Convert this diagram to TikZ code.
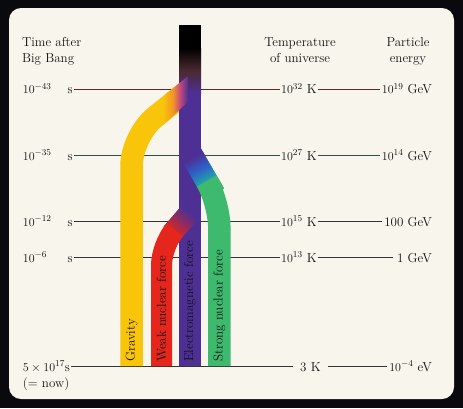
\documentclass[tikz,border=0pt]{standalone}
\usetikzlibrary{calc}
\definecolor{outer}{HTML}{0A0A0E}
\definecolor{panel}{HTML}{F7F5EC}
\definecolor{txt}{HTML}{141212}
\definecolor{mypurple}{HTML}{4E3094}
\definecolor{myyellow}{HTML}{F9C50A}
\definecolor{myorange}{HTML}{F39428}
\definecolor{mypink}{HTML}{C4487E}
\definecolor{myred}{HTML}{E5261C}
\definecolor{mygreen}{HTML}{3DBA6E}
\definecolor{myblue}{HTML}{2F5FC8}
\definecolor{myteal}{HTML}{22A6A8}
\definecolor{mybrown}{HTML}{4A2A30}
\definecolor{lineA}{HTML}{5C2A2A}
\definecolor{lineB}{HTML}{2F4F47}
\definecolor{lineC}{HTML}{333333}
\begin{document}
\begin{tikzpicture}[x=1pt,y=-1pt,
  lbl/.style={font=\fontsize{13}{16}\selectfont, inner sep=1pt, text=txt},
  barlbl/.style={font=\fontsize{13}{16}\selectfont, rotate=90, anchor=west, inner sep=0pt, text=txt},
  rowline/.style={line width=0.9pt}]
\useasboundingbox (0,0) rectangle (463,408);
\fill[outer] (0,0) rectangle (463,408);
\fill[panel, rounded corners=12pt] (9,8) rectangle (454,399);

% headers
\node[lbl, anchor=north west, align=left, inner sep=0pt] (h1) at (22,37.5) {Time after\\Big Bang};
\node[lbl, anchor=north, align=center, inner sep=0pt] (h2) at (300,37.5) {Temperature\\of universe};
\node[lbl, anchor=north, align=center, inner sep=0pt] (h3) at (408,37.5) {Particle\\energy};

% row 1
\node[lbl, anchor=base west] (t1) at (21.7,93.5) {$10^{-43}$};
\node[lbl, anchor=base west] (s1) at (66.5,93.5) {s};
\node[lbl, anchor=base west] (k1) at (280,93.5) {$10^{32}$ K};
\node[lbl, anchor=base east, inner xsep=2pt] (e1) at (434,93.5) {$10^{19}$ GeV};
\coordinate (r1) at (0,89);
\draw[rowline, lineA] (s1.east |- r1) -- (k1.west |- r1);
\draw[rowline, lineA] (k1.east |- r1) -- (e1.west |- r1);
% row 2
\node[lbl, anchor=base west] (t2) at (21.7,160.2) {$10^{-35}$};
\node[lbl, anchor=base west] (s2) at (66.5,160.2) {s};
\node[lbl, anchor=base west] (k2) at (280,160.2) {$10^{27}$ K};
\node[lbl, anchor=base east, inner xsep=2pt] (e2) at (434,160.2) {$10^{14}$ GeV};
\coordinate (r2) at (0,155.7);
\draw[rowline, lineB] (s2.east |- r2) -- (k2.west |- r2);
\draw[rowline, lineB] (k2.east |- r2) -- (e2.west |- r2);
% row 3
\node[lbl, anchor=base west] (t3) at (21.7,226.2) {$10^{-12}$};
\node[lbl, anchor=base west] (s3) at (66.5,226.2) {s};
\node[lbl, anchor=base west] (k3) at (280,226.2) {$10^{15}$ K};
\node[lbl, anchor=base east, inner xsep=2pt] (e3) at (434,226.2) {100 GeV};
\coordinate (r3) at (0,221.7);
\draw[rowline, lineC] (s3.east |- r3) -- (k3.west |- r3);
\draw[rowline, lineC] (k3.east |- r3) -- (e3.west |- r3);
% row 4
\node[lbl, anchor=base west] (t4) at (21.7,262.2) {$10^{-6}$};
\node[lbl, anchor=base west] (s4) at (66.5,262.2) {s};
\node[lbl, anchor=base west] (k4) at (280,262.2) {$10^{13}$ K};
\node[lbl, anchor=base east, inner xsep=4pt] (e4) at (436,262.2) {1 GeV};
\coordinate (r4) at (0,257.7);
\draw[rowline, lineC] (s4.east |- r4) -- (k4.west |- r4);
\draw[rowline, lineC] (k4.east |- r4) -- (e4.west |- r4);
% row 5
\node[lbl, anchor=base west] (t5) at (21.7,371) {$5\times10^{17}$s};
\node[lbl, anchor=base west, inner xsep=7pt] (k5) at (293,371) {3 K};
\node[lbl, anchor=base east, inner xsep=2.5pt] (e5) at (434.5,371) {$10^{-4}$ eV};
\coordinate (r5) at (0,366.5);
\draw[rowline, lineC] (t5.east |- r5) -- (k5.west |- r5);
\draw[rowline, lineC] (k5.east |- r5) -- (e5.west |- r5);
\node[lbl, anchor=base west] (now) at (21.7,387) {(= now)};

% gravity band (under the column)
\draw[myyellow, line width=22.5pt, rounded corners=30pt] (190,89) -- (131.5,135.8) -- (131.5,366);

% main column
\fill[black] (179,25) rectangle (201,49);
\shade[top color=black, bottom color=mypurple, middle color=mybrown] (179,48) rectangle (201,93);
\fill[mypurple] (179,92) rectangle (201,366);

% gravity junction blend
\begin{scope}
\clip (163,96.19) -- (188,76.19) -- (188,101.8) -- (163,125) -- cycle;
\shade[left color=myyellow, right color=myorange] (163,70) rectangle (173,130);
\shade[left color=myorange, right color=mypink] (173,70) rectangle (180,130);
\shade[left color=mypink, right color=mypurple] (180,70) rectangle (188,130);
\end{scope}

% strong branch
\foreach \k in {0,...,47}{
  \ifnum\k<6
    \colorlet{segc}{mypurple}
  \else\ifnum\k<20
    \pgfmathtruncatemacro\p{100*(\k-6)/14}
    \colorlet{segc}{myblue!\p!mypurple}
  \else\ifnum\k<34
    \pgfmathtruncatemacro\p{100*(\k-20)/14}
    \colorlet{segc}{myteal!\p!myblue}
  \else
    \pgfmathtruncatemacro\p{100*(\k-34)/14}
    \colorlet{segc}{mygreen!\p!myteal}
  \fi\fi\fi
  \draw[segc, line width=22.5pt] ({190+0.5*\k},{152+0.866*\k}) -- ({190+0.5*(\k+1.6)},{152+0.866*(\k+1.6)});
}
\draw[mygreen, line width=22.5pt, rounded corners=25pt] ({190+0.5*48},{152+0.866*48}) -- (219.3,202.7) -- (219.3,366);

% weak branch
\foreach \k in {0,...,27}{
  \pgfmathtruncatemacro\p{100*\k/28}
  \colorlet{segc}{myred!\p!mypurple}
  \draw[segc, line width=21pt] ({190-0.65*\k},{212+0.76*\k}) -- ({190-0.65*(\k+1.6)},{212+0.76*(\k+1.6)});
}
\draw[myred, line width=21pt, rounded corners=20pt] ({190-0.65*28},{212+0.76*28}) -- (161.5,245.3) -- (161.5,366);

% bar labels
\node[barlbl] (lg) at (131.5,362) {Gravity};
\node[barlbl] (lw) at (161.5,362) {Weak nuclear force};
\node[barlbl] (le) at (190,362) {Electromagnetic force};
\node[barlbl] (ls) at (219.3,362) {Strong nuclear force};
\end{tikzpicture}
\end{document}
